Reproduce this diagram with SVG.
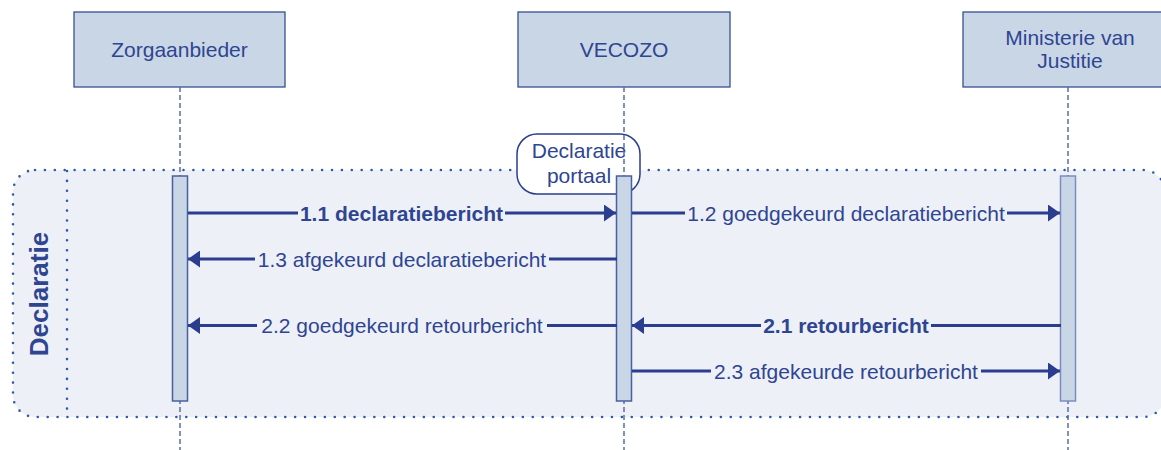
<svg xmlns="http://www.w3.org/2000/svg" width="1161" height="450" viewBox="0 0 1161 450">
<defs>
<style>
.txt{font-family:"Liberation Sans",Arial,sans-serif;font-size:21px;fill:#2f4592}
.b{font-weight:bold}
.box{fill:#c9d6e6;stroke:#3a4f95;stroke-width:1.3}
.life{stroke:#5b6ea8;stroke-width:1.5;stroke-dasharray:5 3;fill:none}
.act{fill:#c9d6e6;stroke:#4a5f9f;stroke-width:1.5}
.msg{stroke:#2a3d8f;stroke-width:3;fill:none}
.lbg{fill:#edf1f7}
.dot{stroke:#2f5aa8;stroke-width:2.6;stroke-linecap:round;stroke-dasharray:0 9.9}
</style>
<marker id="ah" viewBox="0 0 12 17" refX="12" refY="8.5" markerWidth="12" markerHeight="17" markerUnits="userSpaceOnUse" orient="auto">
<path d="M0,0 L12,8.5 L0,17 Z" fill="#2a3d8f"/>
</marker>
</defs>
<rect width="1161" height="450" fill="#ffffff"/>

<g id="frame-declaratie">
<rect x="13" y="170" width="1152" height="247" rx="22" ry="22" class="dot" style="fill:#edf1f7"/>
<line x1="67" y1="171" x2="67" y2="416" class="dot" style="fill:none"/>
<text class="txt b" style="font-size:26px" text-anchor="middle" transform="translate(48,294) rotate(-90)">Declaratie</text>
</g>

<g id="node-portaal">
<rect x="517" y="134" width="123" height="60" rx="20" ry="20" fill="#ffffff" stroke="#2a3d8f" stroke-width="1.5"/>
<text class="txt" x="579" y="158" text-anchor="middle">Declaratie</text>
<text class="txt" x="579" y="183" text-anchor="middle">portaal</text>
</g>

<g id="node-zorgaanbieder">
<rect class="box" x="74" y="12" width="211" height="75"/>
<text class="txt" x="179.5" y="56.5" text-anchor="middle">Zorgaanbieder</text>
<line class="life" x1="180" y1="87" x2="180" y2="450"/>
<rect class="act" x="172.5" y="176" width="15" height="225"/>
</g>

<g id="node-vecozo">
<rect class="box" x="518" y="12" width="212" height="75"/>
<text class="txt" x="624" y="56.5" text-anchor="middle">VECOZO</text>
<line class="life" x1="624" y1="87" x2="624" y2="450"/>
<rect class="act" x="616.5" y="176" width="15" height="225"/>
</g>

<g id="node-ministerie">
<rect class="box" x="963" y="12" width="211" height="75"/>
<text class="txt" x="1070" y="45" text-anchor="middle">Ministerie van</text>
<text class="txt" x="1070" y="68" text-anchor="middle">Justitie</text>
<line class="life" x1="1068" y1="87" x2="1068" y2="450"/>
<rect class="act" x="1060.5" y="176" width="15" height="225" style="stroke:#7b8dbf"/>
</g>

<g id="connectors">
<line class="msg" x1="188" y1="213" x2="616" y2="213" marker-end="url(#ah)"/>
<rect class="lbg" x="298" y="202" width="207" height="22"/>
<text class="txt b" x="401.5" y="220.5" text-anchor="middle">1.1 declaratiebericht</text>

<line class="msg" x1="632" y1="213" x2="1060" y2="213" marker-end="url(#ah)"/>
<rect class="lbg" x="685" y="202" width="322" height="22"/>
<text class="txt" x="846" y="220.5" text-anchor="middle">1.2 goedgekeurd declaratiebericht</text>

<line class="msg" x1="617" y1="259" x2="188" y2="259" marker-end="url(#ah)"/>
<rect class="lbg" x="255" y="248" width="294" height="22"/>
<text class="txt" x="402" y="266.5" text-anchor="middle">1.3 afgekeurd declaratiebericht</text>

<line class="msg" x1="1061" y1="325.5" x2="632" y2="325.5" marker-end="url(#ah)"/>
<rect class="lbg" x="761" y="314" width="170" height="22"/>
<text class="txt b" x="846" y="333" text-anchor="middle">2.1 retourbericht</text>

<line class="msg" x1="617" y1="325.5" x2="188" y2="325.5" marker-end="url(#ah)"/>
<rect class="lbg" x="257" y="314" width="290" height="22"/>
<text class="txt" x="402" y="333" text-anchor="middle">2.2 goedgekeurd retourbericht</text>

<line class="msg" x1="632" y1="371" x2="1060" y2="371" marker-end="url(#ah)"/>
<rect class="lbg" x="711" y="360" width="270" height="22"/>
<text class="txt" x="846" y="378.5" text-anchor="middle">2.3 afgekeurde retourbericht</text>
</g>
</svg>
